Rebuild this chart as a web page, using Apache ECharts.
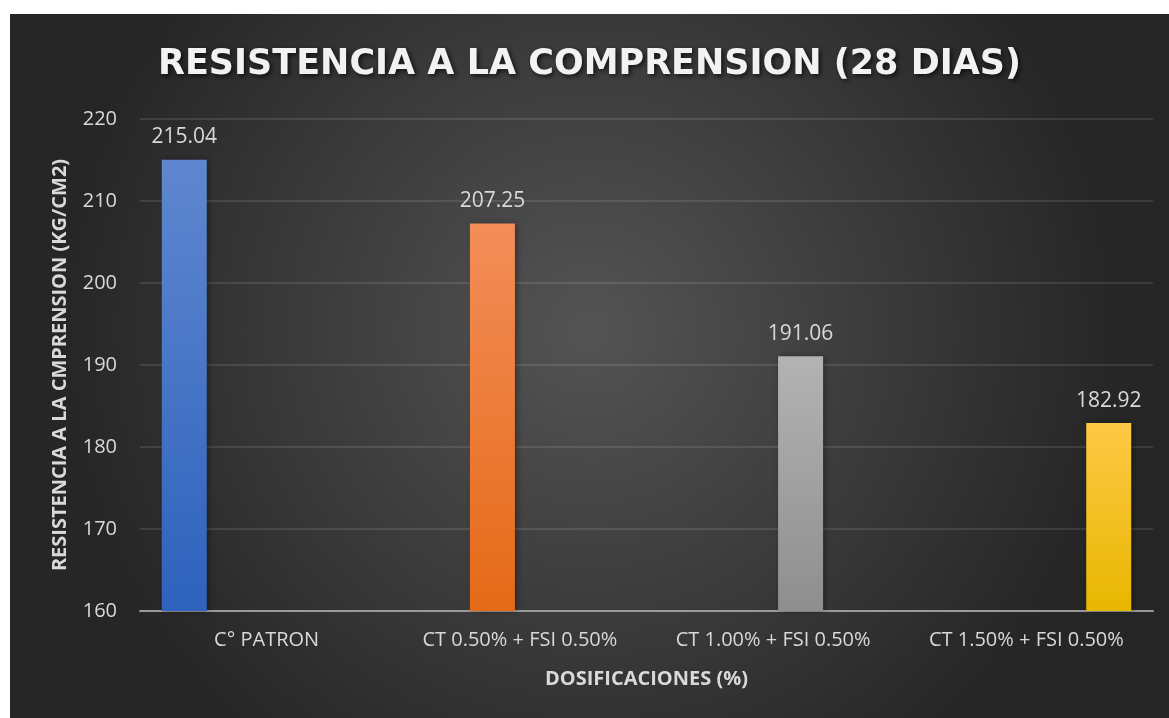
<!DOCTYPE html>
<html>
<head>
<meta charset="utf-8">
<script src="https://cdn.jsdelivr.net/npm/echarts@6/dist/echarts.min.js"></script>
<style>
  html, body { margin: 0; padding: 0; background: #ffffff; }
  #chart { position: absolute; left: 10px; top: 14px; width: 1159px; height: 704px; }
</style>
</head>
<body>
<div id="chart"></div>
<script>
// data
var categories = ['C° PATRON', 'CT 0.50% + FSI 0.50%', 'CT 1.00% + FSI 0.50%', 'CT 1.50% + FSI 0.50%'];
var values = [215.04, 207.25, 191.06, 182.92];
var yTicks = [160, 170, 180, 190, 200, 210, 220];

var barColors = [
    ['#5f87cf', '#2e62bd'],
    ['#f38d59', '#e56a17'],
    ['#b3b3b3', '#8e8e8e'],
    ['#ffc845', '#e7b700']
];

var chartDom = document.getElementById('chart');
var myChart = echarts.init(chartDom);

var series = values.map(function (v, i) {
    return {
        name: categories[i],
        type: 'bar',
        barWidth: 45,
        barGap: '22%',
        data: values.map(function (x, j) { return j === i ? x : null; }),
        itemStyle: {
            color: new echarts.graphic.LinearGradient(0, 0, 0, 1, [
                { offset: 0, color: barColors[i][0] },
                { offset: 1, color: barColors[i][1] }
            ]),
            shadowColor: 'rgba(0,0,0,0.35)',
            shadowBlur: 6,
            shadowOffsetX: 2
        },
        label: {
            show: true,
            position: 'top',
            distance: 12,
            color: '#d9d9d9',
            fontSize: 21,
            fontFamily: 'Open Sans',
            formatter: function (p) { return p.value.toFixed(2); }
        }
    };
});

var option = {
    backgroundColor: new echarts.graphic.RadialGradient(0.5, 0.45, 0.75, [
        { offset: 0, color: '#545454' },
        { offset: 1, color: '#262626' }
    ]),
    title: {
        text: 'RESISTENCIA A LA COMPRENSION (28 DIAS)',
        left: 'center',
        top: 28,
        textStyle: {
            color: '#f2f2f2',
            fontSize: 35,
            fontWeight: 'bold',
            fontFamily: 'DejaVu Sans',
            textShadowColor: 'rgba(0,0,0,0.7)',
            textShadowBlur: 5,
            textShadowOffsetX: 2,
            textShadowOffsetY: 2
        }
    },
    grid: { left: 130, right: 16, top: 105, bottom: 107 },
    xAxis: {
        type: 'category',
        data: categories,
        name: 'DOSIFICACIONES (%)',
        nameLocation: 'middle',
        nameGap: 58,
        nameTextStyle: { color: '#d9d9d9', fontSize: 20, fontWeight: 'bold', fontFamily: 'Open Sans' },
        axisLine: { lineStyle: { color: '#9a9a9a', width: 2 } },
        axisTick: { show: false },
        axisLabel: { color: '#d9d9d9', fontSize: 20, margin: 19, interval: 0, hideOverlap: false, fontFamily: 'Open Sans' }
    },
    yAxis: {
        type: 'value',
        min: yTicks[0],
        max: yTicks[yTicks.length - 1],
        interval: 10,
        name: 'RESISTENCIA A LA CMPRENSION (KG/CM2)',
        nameLocation: 'middle',
        nameGap: 70,
        nameRotate: 90,
        nameTextStyle: { color: '#d9d9d9', fontSize: 20, fontWeight: 'bold', fontFamily: 'Open Sans' },
        axisLine: { show: false },
        axisTick: { show: false },
        axisLabel: { color: '#d9d9d9', fontSize: 20, margin: 23, fontFamily: 'Open Sans' },
        splitLine: { lineStyle: { color: 'rgba(255,255,255,0.14)', width: 1.5 } }
    },
    series: series
};

option && myChart.setOption(option);
</script>
</body>
</html>
